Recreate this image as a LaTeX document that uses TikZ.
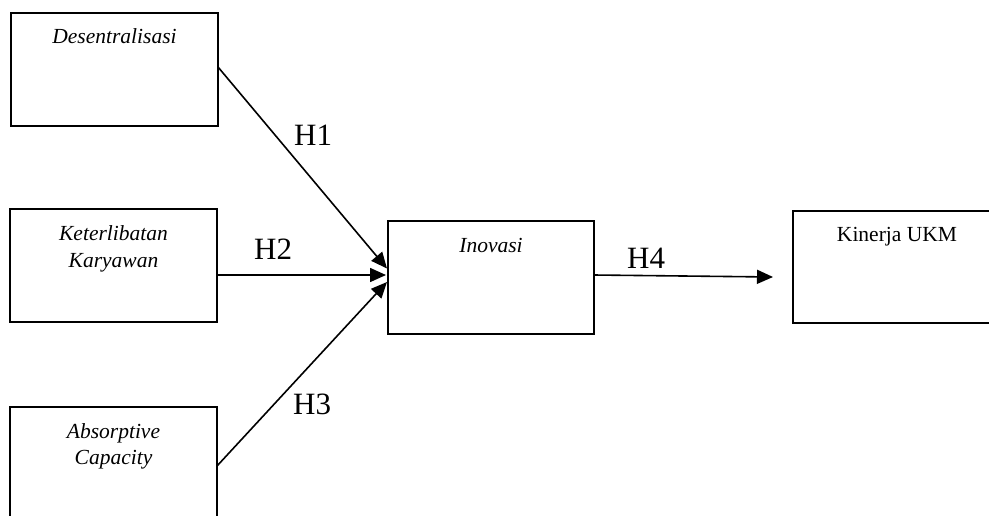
\documentclass[tikz,border=0pt]{standalone}
\usepackage{fontspec}
\setmainfont{Liberation Serif}
\usetikzlibrary{arrows.meta}
\begin{document}
\begin{tikzpicture}[x=1pt,y=-1pt,
  box/.style={draw, line width=2pt, rectangle, inner sep=0pt, outer sep=0pt, minimum height=113pt},
  boxtext/.style={anchor=base, inner sep=0pt, font=\fontsize{21.5}{25}\selectfont},
  hlabel/.style={anchor=base west, inner sep=0pt, font=\fontsize{31}{37}\selectfont},
  conn/.style={line width=1.6pt, -{Triangle[length=16pt,width=14pt]}}]
\useasboundingbox (0,0) rectangle (989,515);
\clip (0,0) rectangle (989,515);
% boxes
\node[box, minimum width=207pt] (des) at (114.5,69.5) {};
\node[box, minimum width=207pt] (ket) at (113.5,265.5) {};
\node[box, minimum width=207pt] (abs) at (113.5,463.5) {};
\node[box, minimum width=206pt] (ino) at (491,277.5) {};
\node[box, minimum width=210pt, minimum height=112pt] (kin) at (898,267) {};
% texts
\node[boxtext] (tdes) at ([yshift=-30pt]des.north) {\itshape Desentralisasi};
\node[boxtext] (tket1) at ([yshift=-31pt]ket.north) {\itshape Keterlibatan};
\node[boxtext] (tket2) at ([yshift=-58pt]ket.north) {\itshape Karyawan};
\node[boxtext] (tabs1) at ([yshift=-31pt]abs.north) {\itshape Absorptive};
\node[boxtext] (tabs2) at ([yshift=-57pt]abs.north) {\itshape Capacity};
\node[boxtext] (tino) at ([yshift=-31pt]ino.north) {\itshape Inovasi};
\node[boxtext] (tkin) at ([xshift=-1pt,yshift=-30pt]kin.north) {Kinerja UKM};
% connectors
\coordinate (h4end) at ([xshift=-20pt,yshift=-10pt]kin.west);
\draw[conn] ([yshift=2.5pt]des.east) -- ([xshift=-1pt,yshift=9pt]ino.west);
\draw[conn] ([yshift=-9.5pt]ket.east) -- ([xshift=-2pt,yshift=2.5pt]ino.west);
\draw[conn] ([yshift=-2.5pt]abs.east) -- ([xshift=-1pt,yshift=-4.5pt]ino.west);
\draw[conn] ([yshift=2.5pt]ino.east) -- (h4end);
% labels
\node[hlabel] (h1) at (294,145) {H1};
\node[hlabel] (h2) at (254,259) {H2};
\node[hlabel] (h3) at (293,414) {H3};
\node[hlabel] (h4) at (627,268) {H4};
\end{tikzpicture}
\end{document}
